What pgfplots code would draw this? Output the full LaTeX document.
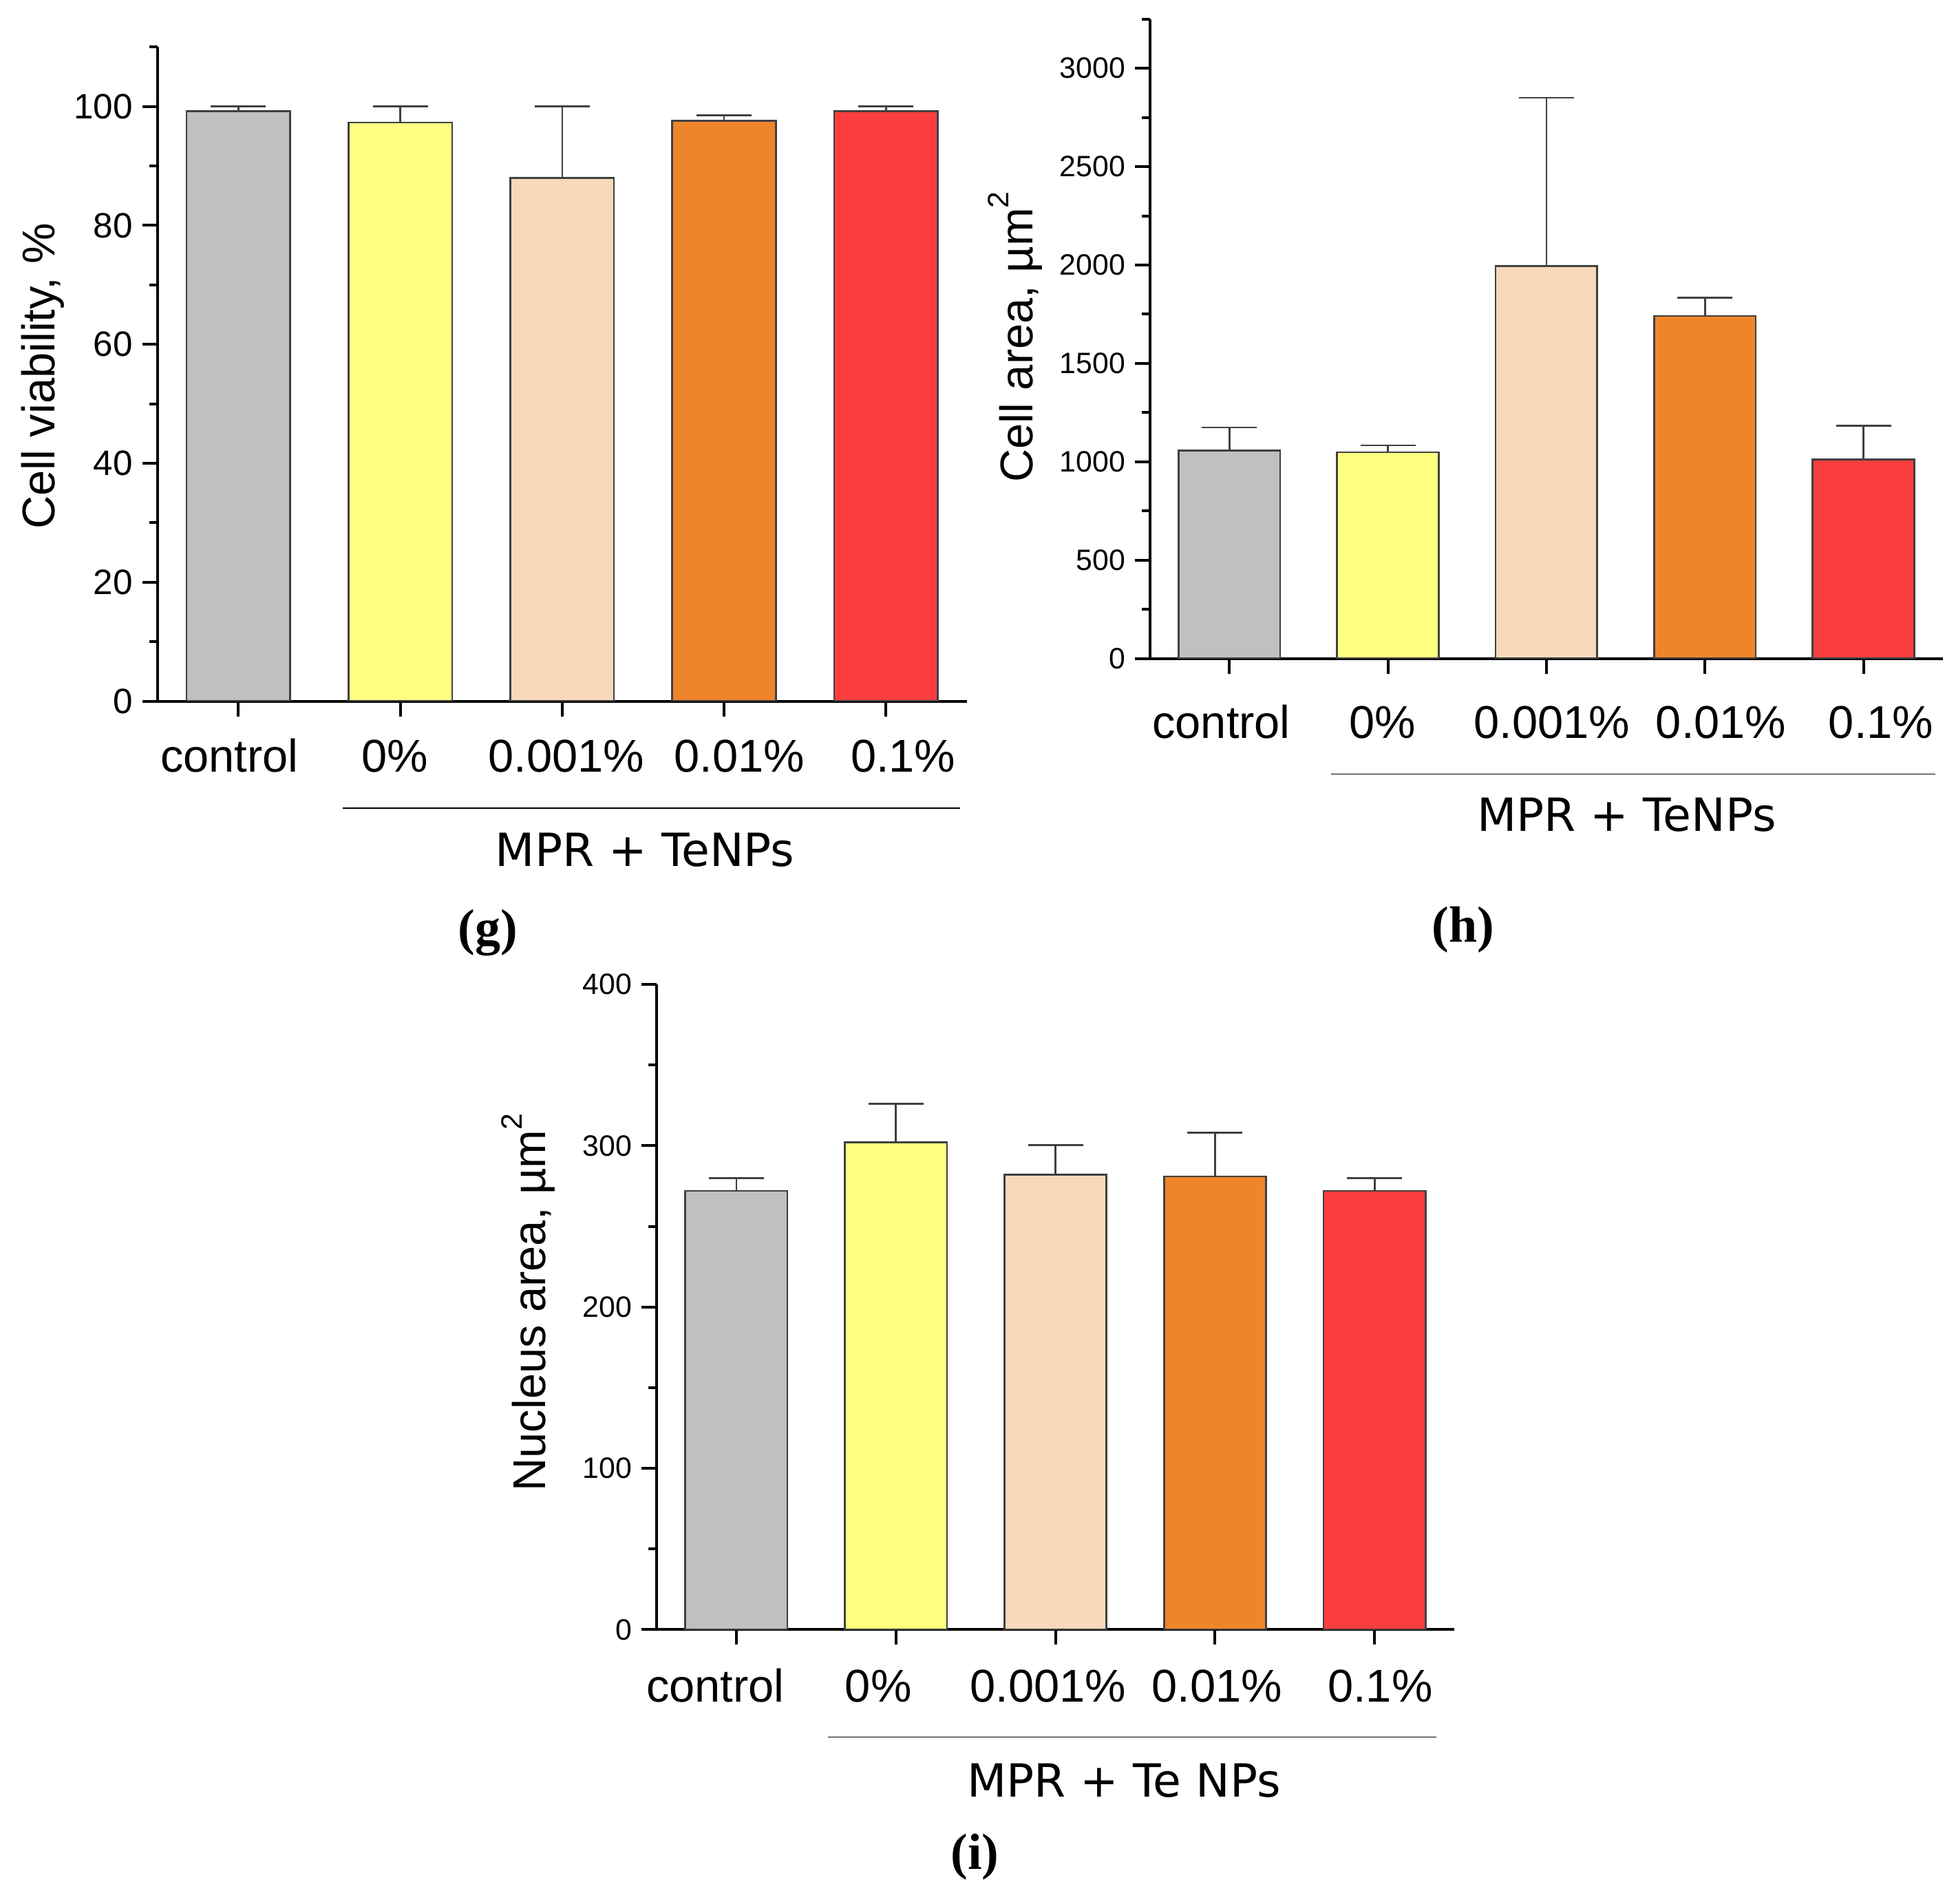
\documentclass[border=0pt]{standalone}
\usepackage{pgfplots}
\pgfplotsset{compat=1.18}
\usepackage{fontspec}
\setmainfont{Liberation Sans}
\newfontfamily\panelfont{Liberation Serif}
\newfontfamily\groupfont{DejaVu Sans}
\definecolor{cgray}{HTML}{C0C0C0}
\definecolor{cyellow}{HTML}{FFFF80}
\definecolor{cpeach}{HTML}{F9D9BC}
\definecolor{corange}{HTML}{EF852A}
\definecolor{cred}{HTML}{FC3D3F}
\definecolor{edge}{HTML}{404040}
\newcommand{\catfont}{\fontsize{16.7pt}{20pt}\selectfont}
\newcommand{\grpfont}{\groupfont\fontsize{16.6pt}{20pt}\selectfont}
\newcommand{\sq}{\raisebox{0.52em}{\fontsize{10.7pt}{12pt}\selectfont 2}}
\pgfplotsset{
  mybars/.style={
    scale only axis, anchor=south west,
    xmin=-0.5, xmax=4.5, ymin=0,
    axis x line*=bottom, axis y line*=left,
    axis line style={line width=1pt,-},
    tick align=outside,
    major tick length=5.5pt, minor tick length=3pt,
    major tick style={line width=1pt,black},
    minor tick style={line width=1pt,black},
    xtick={0,1,2,3,4},
    ybar, bar width=0.64, bar shift=0pt,
    /pgf/number format/assume math mode=true,
    /pgf/number format/1000 sep={},
    xticklabel style={font=\catfont, anchor=base},
    every axis plot/.append style={draw=edge, line width=0.67pt,
      /pgfplots/error bars/y dir=plus, /pgfplots/error bars/y explicit,
      /pgfplots/error bars/error bar style={line width=0.67pt, color=edge},
      /pgfplots/error bars/error mark options={rotate=90, mark size=10pt, line width=0.67pt, color=edge}},
  },
}
\begin{document}
\begin{tikzpicture}
\useasboundingbox (0,0) rectangle (710.5pt,-691.5pt);
% ---------------- (g)
\begin{axis}[mybars,
  at={(57.175pt,-254.625pt)}, width=294.075pt, height=237.55pt,
  ymax=110, ytick={0,20,40,60,80,100}, minor ytick={10,30,50,70,90,110},
  yticklabel style={font=\fontsize{12.8pt}{14pt}\selectfont},
  xticklabel style={yshift=-20.2pt},
  xticklabels={{\kern-3.25pt control\kern3.25pt},{\kern-2pt 0\%\kern2pt},{\kern1.55pt 0.001\%\kern-1.55pt},{\kern5.55pt 0.01\%\kern-5.55pt},{\kern6.2pt 0.1\%\kern-6.2pt}},
  every axis y label/.style={at={([xshift=-37.4pt]rel axis cs:0,0.4967)}, rotate=90, anchor=base},
  ylabel={\catfont Cell viability, \%},
]
\addplot[fill=cgray] coordinates {(0,99.2) +- (0,0.8)};
\addplot[fill=cyellow] coordinates {(1,97.3) +- (0,2.7)};
\addplot[fill=cpeach] coordinates {(2,87.95) +- (0,12.05)};
\addplot[fill=corange] coordinates {(3,97.6) +- (0,0.9)};
\addplot[fill=cred] coordinates {(4,99.2) +- (0,0.8)};
\end{axis}
% ---------------- (h)
\begin{axis}[mybars,
  at={(417.75pt,-239.175pt)}, width=287.925pt, height=232.25pt,
  ymax=3250, ytick={0,500,...,3000}, minor ytick={250,750,...,3250},
  yticklabel style={font=\fontsize{10.7pt}{12pt}\selectfont},
  xticklabel style={yshift=-23.5pt},
  xticklabels={{\kern-2.9pt control\kern2.9pt},{\kern-1.9pt 0\%\kern1.9pt},{\kern1.95pt 0.001\%\kern-1.95pt},{\kern5.85pt 0.01\%\kern-5.85pt},{\kern6.4pt 0.1\%\kern-6.4pt}},
  every axis y label/.style={at={([xshift=-42.75pt]rel axis cs:0,0.503)}, rotate=90, anchor=base},
  ylabel={\catfont Cell area, µm\sq},
]
\addplot[fill=cgray] coordinates {(0,1058) +- (0,116)};
\addplot[fill=cyellow] coordinates {(1,1048) +- (0,36)};
\addplot[fill=cpeach] coordinates {(2,1995) +- (0,855)};
\addplot[fill=corange] coordinates {(3,1741) +- (0,92)};
\addplot[fill=cred] coordinates {(4,1012) +- (0,172)};
\end{axis}
% ---------------- (i)
\begin{axis}[mybars,
  at={(238.5pt,-591.825pt)}, width=289.825pt, height=234.325pt,
  ymax=400, ytick={0,100,200,300,400}, minor ytick={50,150,250,350},
  yticklabel style={font=\fontsize{10.7pt}{12pt}\selectfont},
  xticklabel style={yshift=-20.85pt},
  xticklabels={{\kern-7.6pt control\kern7.6pt},{\kern-6.4pt 0\%\kern6.4pt},{\kern-2.7pt 0.001\%\kern2.7pt},{\kern0.75pt 0.01\%\kern-0.75pt},{\kern2pt 0.1\%\kern-2pt}},
  every axis y label/.style={at={([xshift=-40.3pt]rel axis cs:0,0.507)}, rotate=90, anchor=base},
  ylabel={\catfont Nucleus area, µm\sq},
]
\addplot[fill=cgray] coordinates {(0,272) +- (0,8)};
\addplot[fill=cyellow] coordinates {(1,302) +- (0,24)};
\addplot[fill=cpeach] coordinates {(2,282) +- (0,18.5)};
\addplot[fill=corange] coordinates {(3,281) +- (0,27)};
\addplot[fill=cred] coordinates {(4,272) +- (0,8)};
\end{axis}
% group lines and labels
\draw[line width=0.35pt] (124.575pt,-293.5pt) -- (348.75pt,-293.5pt);
\draw[line width=0.35pt] (483.5pt,-281.075pt) -- (702.925pt,-281.075pt);
\draw[line width=0.35pt] (300.675pt,-630.825pt) -- (521.675pt,-630.825pt);
\node[anchor=base, inner sep=0pt] at (234.25pt,-314.5pt) {\grpfont MPR + TeNPs};
\node[anchor=base, inner sep=0pt] at (590.875pt,-301.925pt) {\grpfont MPR + TeNPs};
\node[anchor=base, inner sep=0pt] at (408.25pt,-652.5pt) {\grpfont MPR + Te NPs};
\node[anchor=base, inner sep=0pt] at (177.175pt,-343pt) {\panelfont\bfseries\fontsize{18.5pt}{20pt}\selectfont (g)};
\node[anchor=base, inner sep=0pt] at (531.5pt,-342pt) {\panelfont\bfseries\fontsize{18.5pt}{20pt}\selectfont (h)};
\node[anchor=base, inner sep=0pt] at (354.125pt,-678.75pt) {\panelfont\bfseries\fontsize{18.5pt}{20pt}\selectfont (i)};
\end{tikzpicture}
\end{document}
